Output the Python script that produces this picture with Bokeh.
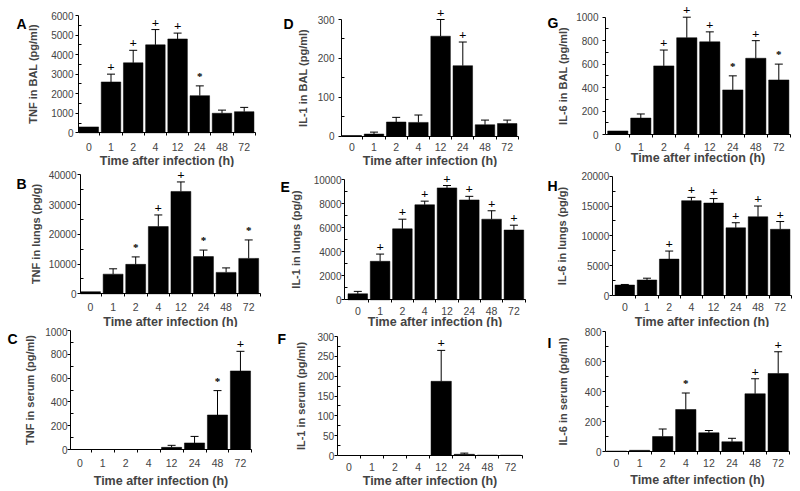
from bokeh.plotting import figure
from bokeh.layouts import row, column
from bokeh.models import (ColumnDataSource, Whisker, TeeHead, LabelSet, Label,
                          FixedTicker, Range1d)
from bokeh.embed import file_html
from bokeh.resources import INLINE

hours = ["0", "1", "2", "4", "12", "24", "48", "72"]

# A: TNF in BAL (pg/ml)
tnf_bal = [300, 2600, 3580, 4500, 4800, 1900, 1000, 1080]
tnf_bal_err = [0, 400, 640, 780, 300, 500, 160, 220]
tnf_bal_sig = ["", "+", "+", "+", "+", "*", "", ""]
# B: TNF in lungs (pg/g)
tnf_lung = [700, 6600, 9900, 22600, 34400, 12500, 7200, 11900]
tnf_lung_err = [0, 1800, 2500, 3900, 3200, 2200, 1500, 6200]
tnf_lung_sig = ["", "", "*", "+", "+", "*", "", "*"]
# C: TNF in serum (pg/ml)
tnf_ser = [0, 0, 0, 0, 18, 55, 290, 660]
tnf_ser_err = [0, 0, 0, 0, 17, 55, 205, 165]
tnf_ser_sig = ["", "", "", "", "", "", "*", "+"]
# D: IL-1 in BAL (pg/ml)
il1_bal = [1, 5, 36, 35, 257, 181, 29, 32]
il1_bal_err = [0, 5, 12, 19, 43, 61, 12, 9]
il1_bal_sig = ["", "", "", "", "+", "+", "", ""]
# E: IL-1 in lungs (pg/g)
il1_lung = [500, 3200, 5900, 7900, 9300, 8300, 6700, 5800]
il1_lung_err = [200, 600, 800, 300, 200, 300, 700, 400]
il1_lung_sig = ["", "+", "+", "+", "+", "+", "+", "+"]
# F: IL-1 in serum (pg/ml)
il1_ser = [0, 0, 0, 0, 187, 3, 1, 1]
il1_ser_err = [0, 0, 0, 0, 78, 3, 0, 0]
il1_ser_sig = ["", "", "", "", "+", "", "", ""]
# G: IL-6 in BAL (pg/ml)
il6_bal = [30, 140, 585, 825, 790, 380, 650, 465]
il6_bal_err = [0, 35, 135, 175, 85, 120, 150, 135]
il6_bal_sig = ["", "", "+", "+", "+", "*", "+", "*"]
# H: IL-6 in lungs (pg/g)
il6_lung = [1750, 2600, 6100, 15900, 15500, 11350, 13200, 11100]
il6_lung_err = [100, 300, 1350, 550, 750, 850, 1800, 1300]
il6_lung_sig = ["", "", "+", "+", "+", "+", "+", "+"]
# I: IL-6 in serum (pg/ml)
il6_ser = [3, 8, 100, 280, 125, 65, 385, 520]
il6_ser_err = [0, 0, 50, 110, 15, 23, 100, 145]
il6_ser_sig = ["", "", "", "*", "", "", "+", "+"]

FONT = "Liberation Sans"


def panel(letter, letter_pos, ylabel, means, errs, sig, yticks, box, axis_px,
          c0, s, y0, ytop, xt_standoff, xl_standoff, yt_standoff, yl_standoff):
    left, top, right, bottom = box
    W, H = right - left, bottom - top
    ymax = yticks[-1]
    k = (y0 - ytop) / ymax
    xr = Range1d((left - c0) / s, (right - c0) / s)
    yr = Range1d((y0 - bottom) / k, (y0 - top) / k)
    p = figure(width=W, height=H, x_range=xr, y_range=yr,
               min_border=0, min_border_left=0, min_border_right=0,
               min_border_top=0, min_border_bottom=0,
               output_backend="svg", toolbar_location=None)
    p.outline_line_color = None
    p.xgrid.grid_line_color = None
    p.ygrid.grid_line_color = None
    p.background_fill_color = "white"
    p.border_fill_color = "white"

    idx = list(range(len(hours)))
    upper = [m + e for m, e in zip(means, errs)]
    src = ColumnDataSource(dict(x=idx, top=means))
    p.vbar(x="x", top="top", width=0.88, source=src, fill_color="black",
           line_color="black", line_width=0.5)
    keep = [i for i, e in enumerate(errs) if e > 0]
    wsrc = ColumnDataSource(dict(x=keep, lower=[means[i] for i in keep],
                                 upper=[upper[i] for i in keep]))
    p.add_layout(Whisker(base="x", lower="lower", upper="upper", source=wsrc,
                         lower_head=None,
                         upper_head=TeeHead(size=8, line_color="black", line_width=1),
                         line_color="black", line_width=1))
    pl = [i for i, t in enumerate(sig) if t == "+"]
    st = [i for i, t in enumerate(sig) if t == "*"]
    plus = ColumnDataSource(dict(x=pl, y=[upper[i] for i in pl], t=["+"] * len(pl)))
    star = ColumnDataSource(dict(x=st, y=[upper[i] for i in st], t=["*"] * len(st)))
    p.add_layout(LabelSet(x="x", y="y", text="t", source=plus, y_offset=3,
                          text_align="center", text_baseline="alphabetic",
                          text_font=FONT, text_font_size="13px",
                          text_font_style="bold", text_color="black"))
    p.add_layout(LabelSet(x="x", y="y", text="t", source=star, y_offset=6,
                          text_align="center", text_baseline="alphabetic",
                          text_font=FONT, text_font_size="11px",
                          text_font_style="bold", text_color="black"))

    ya = p.yaxis[0]
    minor = [(a + b) / 2 for a, b in zip(yticks[:-1], yticks[1:])]
    ya.ticker = FixedTicker(ticks=yticks, minor_ticks=minor)
    ya.fixed_location = (axis_px - c0) / s
    ya.bounds = (0, ymax)
    ya.major_tick_out = 3
    ya.major_tick_in = 0
    ya.minor_tick_in = 3
    ya.minor_tick_out = 0
    ya.major_label_text_font = FONT
    ya.major_label_text_font_size = "10px"
    ya.major_label_standoff = yt_standoff
    ya.axis_label = ylabel
    ya.axis_label_text_font = FONT
    ya.axis_label_text_font_size = "11px"
    ya.axis_label_text_font_style = "bold"
    ya.axis_label_standoff = yl_standoff
    ya.axis_line_color = "black"
    ya.major_tick_line_color = "black"
    ya.minor_tick_line_color = "black"

    xa = p.xaxis[0]
    xa.ticker = FixedTicker(ticks=idx, minor_ticks=[i + 0.5 for i in idx])
    xa.major_label_overrides = {i: h for i, h in zip(idx, hours)}
    xa.fixed_location = 0
    xa.bounds = ((axis_px - c0) / s, len(hours) - 0.5)
    xa.major_tick_out = 0
    xa.major_tick_in = 0
    xa.minor_tick_out = 3
    xa.minor_tick_in = 0
    xa.minor_tick_line_color = "black"
    xa.major_label_text_font = FONT
    xa.major_label_text_font_size = "10.5px"
    xa.major_label_standoff = xt_standoff
    xa.axis_label = "Time after infection (h)"
    xa.axis_label_text_font = FONT
    xa.axis_label_text_font_size = "12.5px"
    xa.axis_label_text_font_style = "bold"
    xa.axis_label_standoff = xl_standoff
    xa.axis_line_color = "black"

    lx, lbase = letter_pos
    p.add_layout(Label(x=lx - left, y=bottom - lbase, x_units="screen",
                       y_units="screen", text=letter, text_font=FONT,
                       text_font_size="14px", text_font_style="bold",
                       text_baseline="alphabetic", text_align="left",
                       text_color="black"))
    return p


# page boxes (left, top, right, bottom); the page has no body margin
X1, X2, X3, X4 = 0, 272, 532, 799
Y1, Y2, Y3, Y4 = 0, 167, 327, 490

pA = panel("A", (16, 23), "TNF in BAL (pg/ml)", tnf_bal, tnf_bal_err, tnf_bal_sig,
           [0, 1000, 2000, 3000, 4000, 5000, 6000], (X1, Y1, X2, Y2),
           78, 88.3, 22.2, 132.3, 15.0, 7, 0, 2, 9)
pD = panel("D", (283, 23), "IL-1 in BAL (pg/ml)", il1_bal, il1_bal_err, il1_bal_sig,
           [0, 100, 200, 300], (X2, Y1, X3, Y2),
           341, 351.3, 22.2, 135.5, 19.0, 4, -1, 4, 6)
pG = panel("G", (547, 22), "IL-6 in BAL (pg/ml)", il6_bal, il6_bal_err, il6_bal_sig,
           [0, 200, 400, 600, 800, 1000], (X3, Y1, X4, Y2),
           605, 617.3, 23.0, 134.0, 16.7, 5, -3, 4, 4)

pB = panel("B", (16, 183), "TNF in lungs (pg/g)", tnf_lung, tnf_lung_err, tnf_lung_sig,
           [0, 10000, 20000, 30000, 40000], (X1, Y2, X2, Y3),
           80, 90.0, 22.6, 293.3, 174.3, 6, 1, 1, 4)
pE = panel("E", (280, 186), "IL-1 in lungs (pg/g)", il1_lung, il1_lung_err, il1_lung_sig,
           [0, 2000, 4000, 6000, 8000, 10000], (X2, Y2, X3, Y3),
           344, 357.3, 22.3, 299.3, 179.0, 4, -3, 0, 9)
pH = panel("H", (547, 185), "IL-6 in lungs (pg/g)", il6_lung, il6_lung_err, il6_lung_sig,
           [0, 5000, 10000, 15000, 20000], (X3, Y2, X4, Y3),
           611.7, 624.3, 22.2, 295.0, 175.7, 4, 1, 0, 11)

pC = panel("C", (7, 338), "TNF in serum (pg/ml)", tnf_ser, tnf_ser_err, tnf_ser_sig,
           [0, 200, 400, 600, 800, 1000], (X1, Y3, X2, Y4),
           70, 79.3, 22.95, 449.0, 330.0, 6, 4, 0, 6)
pF = panel("F", (277, 338), "IL-1 in serum (pg/ml)", il1_ser, il1_ser_err, il1_ser_sig,
           [0, 50, 100, 150, 200, 250, 300], (X2, Y3, X3, Y4),
           336.7, 348.3, 23.1, 455.0, 336.0, 4, 0, 0, 8)
pI = panel("I", (547, 342), "IL-6 in serum (pg/ml)", il6_ser, il6_ser_err, il6_ser_sig,
           [0, 200, 400, 600, 800], (X3, Y3, X4, Y4),
           605, 616.0, 23.1, 451.0, 331.0, 4, 3, 1, 13)

layout = column(row(pA, pD, pG), row(pB, pE, pH), row(pC, pF, pI))

open("out.html", "w").write(file_html(layout, INLINE))
